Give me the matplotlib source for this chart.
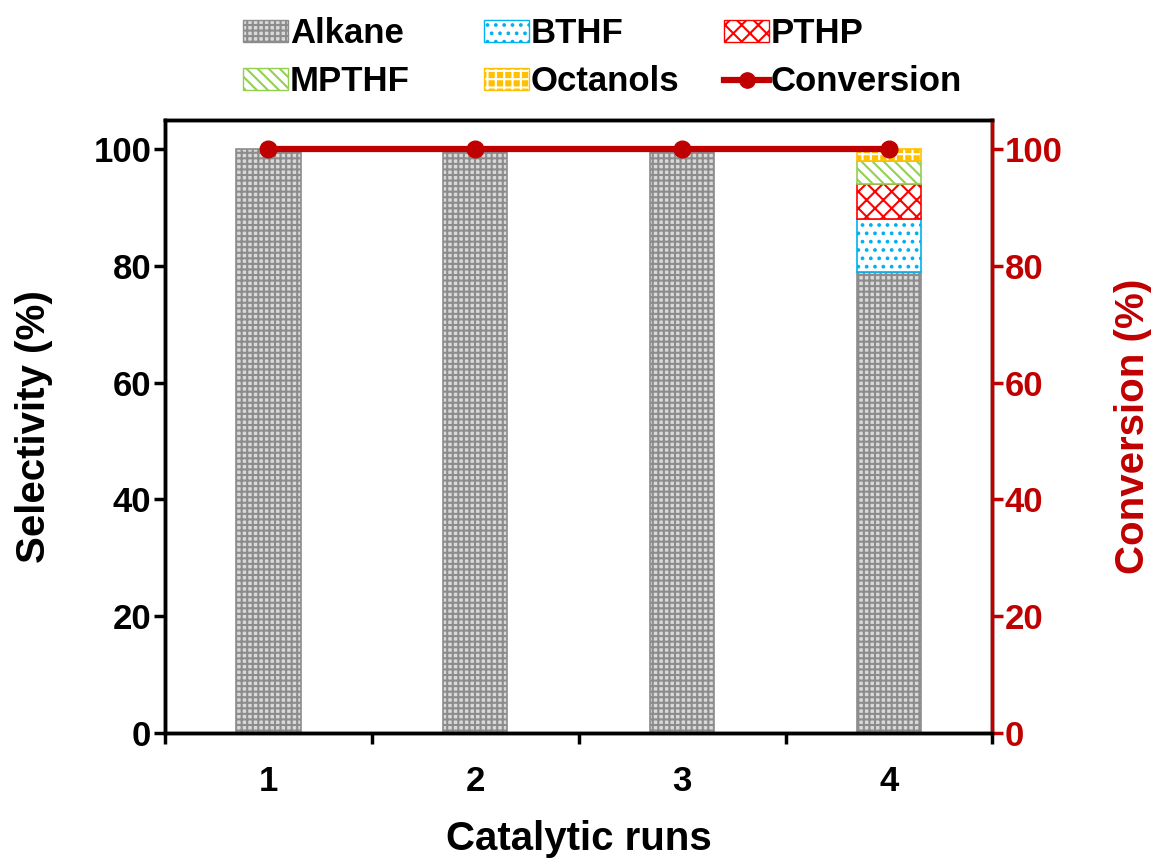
import matplotlib
matplotlib.use("Agg")
import matplotlib.pyplot as plt
import matplotlib.patches as mpatches
from matplotlib.lines import Line2D
from matplotlib.legend_handler import HandlerTuple
import numpy as np

plt.rcParams['font.family'] = ['Liberation Sans', 'DejaVu Sans']
plt.rcParams['font.weight'] = 'bold'
plt.rcParams['hatch.linewidth'] = 1.5

runs = [1, 2, 3, 4]
alkane = [100, 100, 100, 79]
bthf = [0, 0, 0, 9]
pthp = [0, 0, 0, 6]
mpthf = [0, 0, 0, 4]
octanols = [0, 0, 0, 2]
conversion = [100, 100, 100, 100]

red = '#C00000'
fig = plt.figure(figsize=(11.54, 8.59), dpi=100)
ax = fig.add_axes([0.143, 0.147, 0.717, 0.713])

x = np.array(runs)
w = 0.31
bottom = np.zeros(4)

# alkane (grey checker)
ax.bar(x, alkane, w, bottom=bottom, facecolor='#d9d9d9', edgecolor='#8c8c8c', hatch='+++', lw=1.2)
bottom += alkane
mask = x == 4
ax.bar(x[mask], np.array(bthf)[mask], w, bottom=bottom[mask], facecolor='white', edgecolor='#00B0F0', hatch='..', lw=1.2)
bottom += bthf
ax.bar(x[mask], np.array(pthp)[mask], w, bottom=bottom[mask], facecolor='white', edgecolor='#FF0000', hatch='xx', lw=1.2)
bottom += pthp
ax.bar(x[mask], np.array(mpthf)[mask], w, bottom=bottom[mask], facecolor='white', edgecolor='#92D050', hatch='\\\\\\', lw=1.2)
bottom += mpthf
ax.bar(x[mask], np.array(octanols)[mask], w, bottom=bottom[mask], facecolor='#FFC000', edgecolor='white', hatch='++', lw=0)
ax.bar(x[mask], np.array(octanols)[mask], w, bottom=bottom[mask], facecolor='none', edgecolor='#FFC000', lw=1.2)

ax.set_xlim(0.5, 4.5)
ax.set_ylim(0, 105)
ax.set_yticks([0, 20, 40, 60, 80, 100])
ax.set_xticks([0.5, 1.5, 2.5, 3.5, 4.5])
ax.set_xticklabels([])
ax.set_xticks(runs, minor=True)
ax.set_xticklabels([str(r) for r in runs], minor=True)
ax.tick_params(axis='x', which='major', direction='out', length=8, width=2.5)
ax.tick_params(axis='x', which='minor', length=0, labelsize=25, pad=23)
ax.tick_params(axis='y', direction='out', length=8, width=2.5, labelsize=25, pad=2)
for s in ax.spines.values():
    s.set_linewidth(2.5)
ax.set_xlabel('Catalytic runs', fontsize=29, fontweight='bold', labelpad=16)
ax.set_ylabel('Selectivity (%)', fontsize=29, fontweight='bold', labelpad=29)

ax2 = ax.twinx()
ax2.plot(x, conversion, color=red, lw=4.5, marker='o', markersize=12, clip_on=False, zorder=5)
ax2.set_ylim(0, 105)
ax2.set_yticks([0, 20, 40, 60, 80, 100])
ax2.tick_params(axis='y', colors=red, direction='out', length=8, width=2.5, labelsize=25, pad=1)
for s in ax2.spines.values():
    s.set_linewidth(2.5)
ax2.spines['right'].set_color(red)
ax2.set_ylabel('Conversion (%)', fontsize=29, fontweight='bold', color=red, labelpad=37)

h_alk = mpatches.Patch(facecolor='#d9d9d9', edgecolor='#8c8c8c', hatch='+++')
h_bthf = mpatches.Patch(facecolor='white', edgecolor='#00B0F0', hatch='..')
h_pthp = mpatches.Patch(facecolor='white', edgecolor='#FF0000', hatch='xx')
h_mpthf = mpatches.Patch(facecolor='white', edgecolor='#92D050', hatch='\\\\\\')
h_oct = (mpatches.Patch(facecolor='#FFC000', edgecolor='white', hatch='++', lw=0),
         mpatches.Patch(facecolor='none', edgecolor='#FFC000'))
h_conv = Line2D([], [], color=red, lw=4.5, marker='o', markersize=11)

# legend: three single-column legends placed like the reference
cols = [([h_alk, h_mpthf], ['Alkane', 'MPTHF'], 243),
        ([h_bthf, h_oct], ['BTHF', 'Octanols'], 484),
        ([h_pthp, h_conv], ['PTHP', 'Conversion'], 724)]
for hs, ls, px in cols:
    leg = fig.legend(hs, ls, loc='upper left', bbox_to_anchor=(px / 1154, 0.980),
                     frameon=False, fontsize=25, handlelength=1.3, handleheight=0.6,
                     handletextpad=0.05, labelspacing=0.44, borderpad=0, borderaxespad=0,
                     handler_map={tuple: HandlerTuple(ndivide=1, pad=0)})

fig.savefig('out.png', dpi=100)
